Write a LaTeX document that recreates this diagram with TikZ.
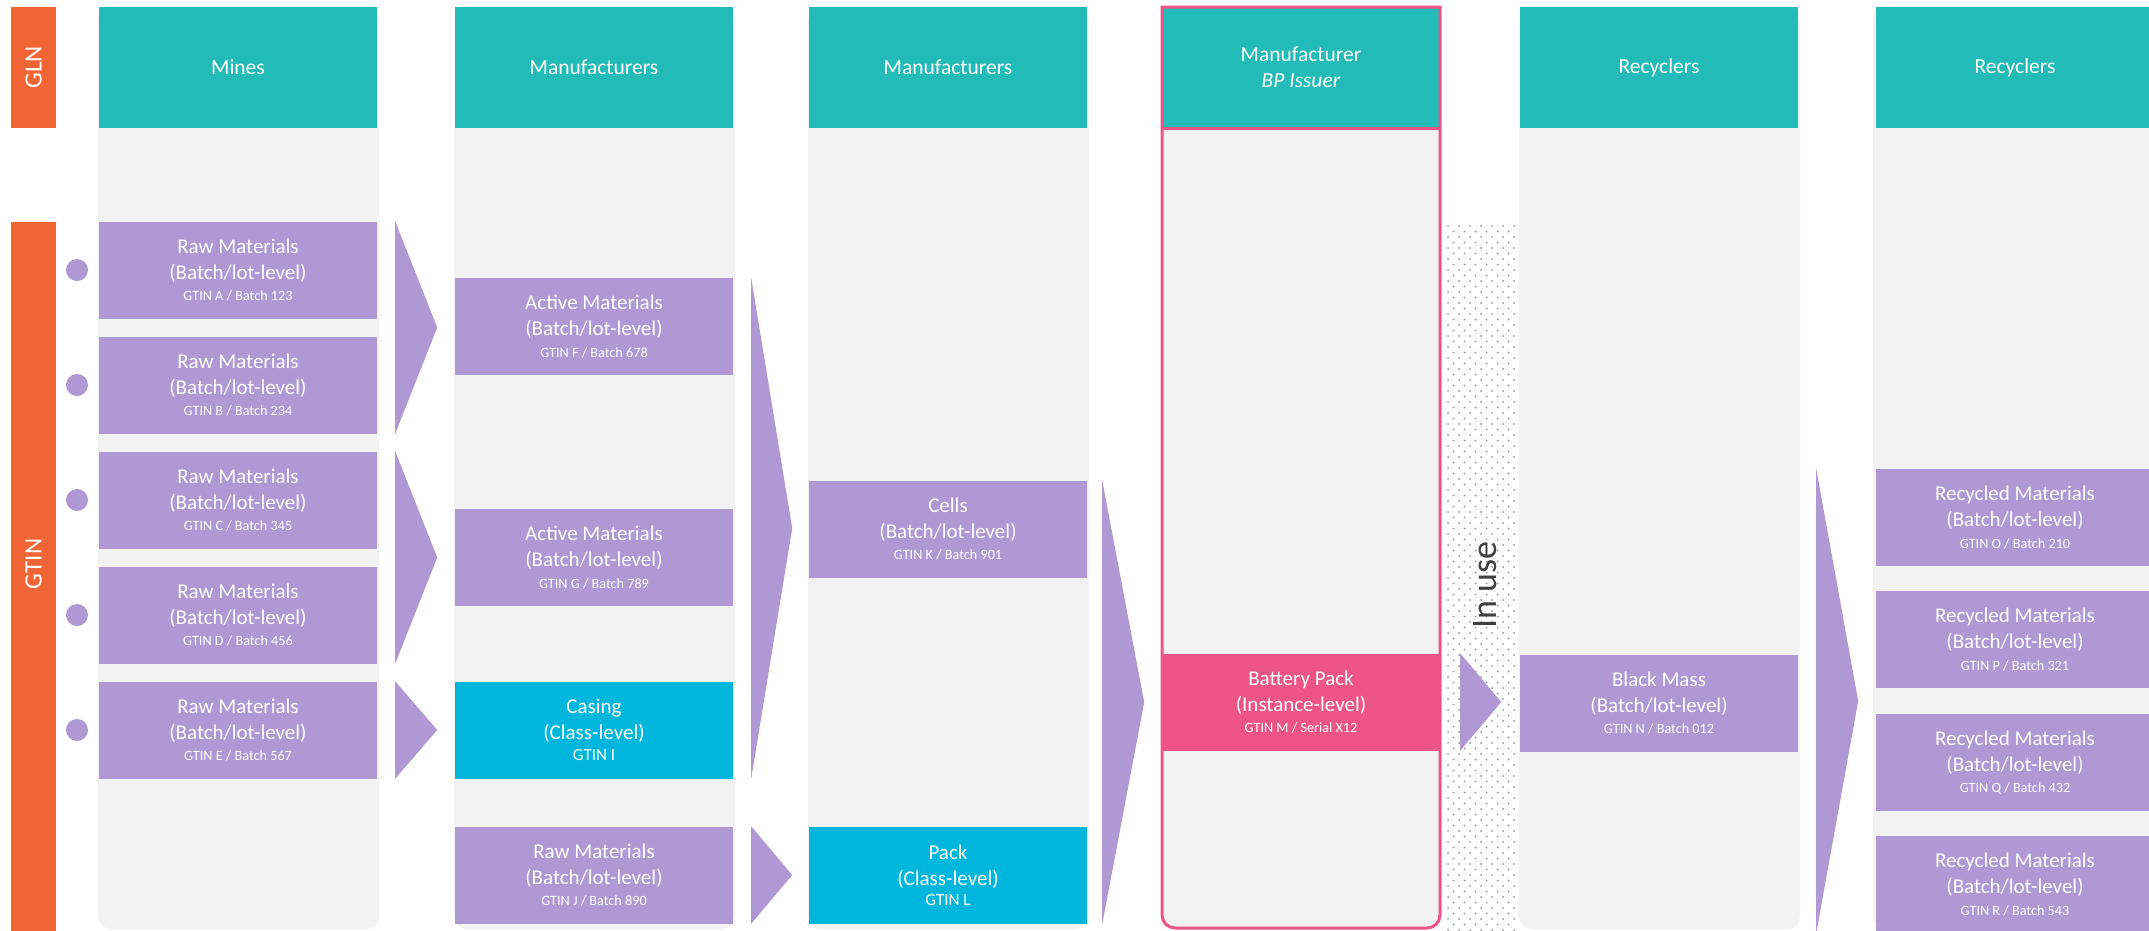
\documentclass[tikz,border=0pt]{standalone}
\usepackage{fontspec}
\setmainfont{Carlito}
\usepackage{tikz}
\usetikzlibrary{positioning, calc}
\definecolor{sideorange}{RGB}{241, 100, 52}
\definecolor{headteal}{RGB}{35, 187, 183}
\definecolor{lanegray}{RGB}{242, 242, 242}
\definecolor{boxpurple}{RGB}{176, 152, 213}
\definecolor{classcyan}{RGB}{0, 182, 221}
\definecolor{issuerpink}{RGB}{238, 85, 134}
\definecolor{dotgray}{RGB}{150, 150, 150}
\definecolor{usegray}{RGB}{64, 64, 64}
\tikzset{
    lanehead/.style={
        fill=headteal, text=white, minimum width=278pt, minimum height=121pt,
        inner sep=0pt, align=center, font=\fontsize{21.5}{26}\selectfont
    },
    itembox/.style={
        fill=boxpurple, text=white, minimum width=278pt, minimum height=97pt,
        inner sep=0pt, align=center, font=\fontsize{21}{26}\selectfont
    },
    classbox/.style={
        itembox, fill=classcyan
    },
    instancebox/.style={
        itembox, fill=issuerpink
    }
}
\newcommand{\idline}[1]{\\[-4.4pt]{\fontsize{14.2}{16}\selectfont #1}}
\newcommand{\classline}[1]{\\[-5.5pt]{\fontsize{17}{20}\selectfont #1}}

\begin{document}
\begin{tikzpicture}[
        x=1pt, y=-1pt, % 1 unit = 1 pixel of the layout
        % --- STYLE ---
        lane/.style={fill=lanegray, rounded corners=13pt},
        chev/.style={fill=boxpurple},
        bullet/.style={circle, fill=boxpurple, minimum size=22pt, inner sep=0pt},
        sidelabel/.style={rotate=90, text=white, font=\fontsize{25}{30}\selectfont},
        inuselabel/.style={rotate=90, text=usegray, font=\fontsize{36}{40}\selectfont},
        issuerframe/.style={draw=issuerpink, line width=3pt}
    ]
    \useasboundingbox (0,0) rectangle (2149,930);
    \clip (0,0) rectangle (2149,930);

    % ==========================================
    % GLN / GTIN
    % ==========================================
    \fill[sideorange] (11,7) rectangle (56,128);
    \node[sidelabel] (gln) at (33.5,67.5) {GLN};
    \fill[sideorange] (11,222) rectangle (56,940);
    \node[sidelabel] (gtin) at (33.5,564) {GTIN};

    % lanes
    \fill[lane] (98,7) rectangle (379,929);
    \fill[lane] (454,7) rectangle (735,929);
    \fill[lane] (808,7) rectangle (1089,929);
    \fill[lane] (1161,7) rectangle (1441,929);
    \fill[lane] (1519,7) rectangle (1800,929);
    \fill[lane] (1873,7) rectangle (2180,929);

    % in use band
    \begin{scope}
        \clip (1444,223) rectangle (1518,930);
        \foreach \r [evaluate=\r as \yy using {226+\r*5.5}, evaluate=\r as \dx using {mod(\r,2)*5.5}] in {0,...,128}
            \foreach \c in {0,...,6}
                \fill[dotgray] ({1448+\c*11+\dx},\yy) circle (1pt);
    \end{scope}

    % ==========================================
    % MINES
    % ==========================================
    \node[lanehead] (headMines) at (238,67.5) {Mines};

    \node[itembox] (rawA) at (238,270) {Raw Materials\\(Batch/lot-level)\idline{GTIN A / Batch 123}};
    \node[itembox] (rawB) at (238,385) {Raw Materials\\(Batch/lot-level)\idline{GTIN B / Batch 234}};
    \node[itembox] (rawC) at (238,500) {Raw Materials\\(Batch/lot-level)\idline{GTIN C / Batch 345}};
    \node[itembox] (rawD) at (238,615) {Raw Materials\\(Batch/lot-level)\idline{GTIN D / Batch 456}};
    \node[itembox] (rawE) at (238,730) {Raw Materials\\(Batch/lot-level)\idline{GTIN E / Batch 567}};

    \node[bullet] (dotA) at (77,270) {};
    \node[bullet] (dotB) at (77,385) {};
    \node[bullet] (dotC) at (77,500) {};
    \node[bullet] (dotD) at (77,615) {};
    \node[bullet] (dotE) at (77,730) {};

    \fill[chev] ($(rawA.north east)+(18,0)$) -- ($(rawB.south east)+(18,0)$)
        -- ($(rawA.north east)!0.5!(rawB.south east)+(60,0)$) -- cycle;
    \fill[chev] ($(rawC.north east)+(18,0)$) -- ($(rawD.south east)+(18,0)$)
        -- ($(rawC.north east)!0.5!(rawD.south east)+(60,0)$) -- cycle;
    \fill[chev] ($(rawE.north east)+(18,0)$) -- ($(rawE.south east)+(18,0)$)
        -- ($(rawE.east)+(60,0)$) -- cycle;

    % ==========================================
    % MANUFACTURERS (MATERIALS)
    % ==========================================
    \node[lanehead] (headMfrA) at (594,67.5) {Manufacturers};

    \node[itembox] (actF) at (594,326.5) {Active Materials\\(Batch/lot-level)\idline{GTIN F / Batch 678}};
    \node[itembox] (actG) at (594,557.5) {Active Materials\\(Batch/lot-level)\idline{GTIN G / Batch 789}};
    \node[classbox] (casingI) at (594,730) {Casing\\(Class-level)\classline{GTIN I}};
    \node[itembox] (rawJ) at (594,875) {Raw Materials\\(Batch/lot-level)\idline{GTIN J / Batch 890}};

    \fill[chev] ($(actF.north east)+(18,0)$) -- ($(casingI.south east)+(18,0)$)
        -- ($(actF.north east)!0.5!(casingI.south east)+(59,0)$) -- cycle;
    \fill[chev] ($(rawJ.north east)+(18,0)$) -- ($(rawJ.south east)+(18,0)$)
        -- ($(rawJ.east)+(59,0)$) -- cycle;

    % ==========================================
    % MANUFACTURERS (CELLS / PACK)
    % ==========================================
    \node[lanehead] (headMfrB) at (948,67.5) {Manufacturers};

    \node[itembox] (cellsK) at (948,529) {Cells\\(Batch/lot-level)\idline{GTIN K / Batch 901}};
    \node[classbox] (packL) at (948,875.5) {Pack\\(Class-level)\classline{GTIN L}};

    \fill[chev] ($(cellsK.north east)+(15,0)$) -- ($(packL.south east)+(15,0)$)
        -- ($(cellsK.north east)!0.5!(packL.south east)+(57,0)$) -- cycle;

    % ==========================================
    % BP ISSUER
    % ==========================================
    \node[lanehead] (headIssuer) at (1301,67.5) {Manufacturer\\\textit{BP Issuer}};

    \node[instancebox] (packM) at (1301,702) {Battery Pack\\(Instance-level)\idline{GTIN M / Serial X12}};

    \fill[chev] ($(packM.north east)+(20,0)$) -- ($(packM.south east)+(20,0)$)
        -- ($(packM.east)+(61,0)$) -- cycle;

    \draw[issuerframe] (1162,128) -- (1162,7) -- (1440,7) -- (1440,128)
        [rounded corners=13pt] -- (1440,928) -- (1162,928) -- cycle;
    \draw[issuerframe] (1162,128) -- (1440,128);

    \node[inuselabel] (inuse) at (1485,585) {In use};

    % ==========================================
    % RECYCLERS
    % ==========================================
    \node[lanehead] (headRecA) at (1659,67.5) {Recyclers};

    \node[itembox] (massN) at (1659,703) {Black Mass\\(Batch/lot-level)\idline{GTIN N / Batch 012}};

    \node[lanehead] (headRecB) at (2015,67.5) {Recyclers};

    \node[itembox] (recO) at (2015,517.5) {Recycled Materials\\(Batch/lot-level)\idline{GTIN O / Batch 210}};
    \node[itembox] (recP) at (2015,639.5) {Recycled Materials\\(Batch/lot-level)\idline{GTIN P / Batch 321}};
    \node[itembox] (recQ) at (2015,762.5) {Recycled Materials\\(Batch/lot-level)\idline{GTIN Q / Batch 432}};
    \node[itembox] (recR) at (2015,884.5) {Recycled Materials\\(Batch/lot-level)\idline{GTIN R / Batch 543}};

    \fill[chev] ($(massN.east |- recO.north)+(18,0)$) -- ($(massN.east |- recR.south)+(18,0)$)
        -- ($(massN.east |- recO.north)!0.5!(massN.east |- recR.south)+(60,0)$) -- cycle;

\end{tikzpicture}
\end{document}
